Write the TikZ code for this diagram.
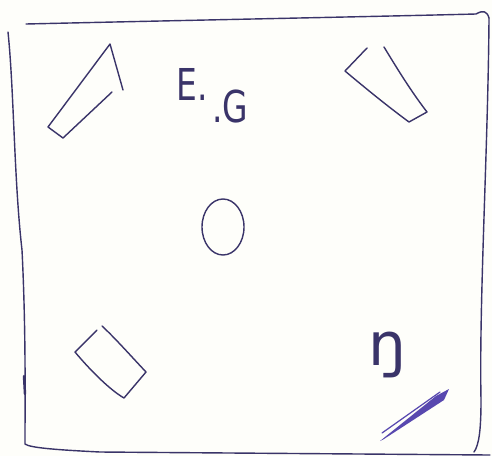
\documentclass[tikz,border=0pt]{standalone}
\usepackage{fontspec}
\setmainfont{DejaVu Sans}
\usetikzlibrary{calc}
\definecolor{ink}{RGB}{58,52,105}
\definecolor{pen}{RGB}{88,72,175}
\definecolor{paper}{RGB}{254,254,250}

\begin{document}
\begin{tikzpicture}[x=0.02cm,y=-0.02cm,
  stroke/.style={draw=ink,line width=0.8pt,line cap=round,line join=round},
  hand/.style={text=ink,inner sep=0pt,font=\fontsize{25}{25}\selectfont}]
\fill[paper] (0,0) rectangle (492,456);
\useasboundingbox (0,0) rectangle (492,456);
% room outline
\draw[stroke] (26,24) .. controls (200,20) and (400,16) .. (476,14)
  .. controls (483,10) and (487,11) .. (489,18);
\draw[stroke] (489,18) .. controls (488,150) and (479,300) .. (481,400)
  .. controls (481,430) and (479,445) .. (474,452);
\draw[stroke] (8,32) .. controls (14,90) and (14,180) .. (22,250)
  .. controls (26,330) and (25,400) .. (25,444)
  .. controls (30,448) and (60,450) .. (100,452) -- (490,455);
\draw[stroke,line width=1.4pt] (24,376) -- (25,394);
% lamps in the corners
\draw[stroke] (123,90) -- (110,44) -- (48,127) -- (63,138) -- (112,92);
\draw[stroke] (367,48) -- (345,71) .. controls (370,92) and (390,108) .. (409,122)
  -- (427,112) .. controls (410,90) and (395,65) .. (384,47);
\draw[stroke] (97,330) -- (75,352) .. controls (90,370) and (110,390) .. (124,398)
  -- (146,372) .. controls (130,355) and (115,338) .. (102,326);
% table
\draw[stroke] (223,227) ellipse [x radius=21,y radius=28];
% labels
\node[hand,anchor=base west,xscale=0.75] (labelE) at (176,100) {E.};
\node[hand,anchor=base west,xscale=0.75] (labelG) at (212,122) {.G};
\node[hand,anchor=base west,font=\fontsize{34}{34}\selectfont] (labelNg) at (368,365) {ŋ};
% pen
\fill[pen] (380,441) -- (436,396) -- (449,389) -- (444,400) -- (384,439) -- cycle;
\draw[pen,line width=0.7pt,line cap=round] (382,433) -- (440,392);
\end{tikzpicture}
\end{document}
